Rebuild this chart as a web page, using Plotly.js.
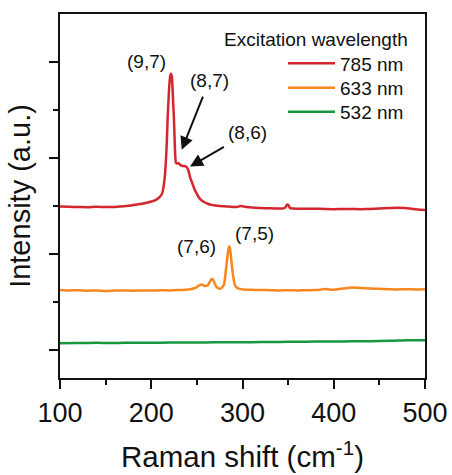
<!DOCTYPE html>
<html>
<head>
<meta charset="utf-8">
<script src="https://cdn.plot.ly/plotly-3.0.1.min.js"></script>
<style>
  html, body { margin: 0; padding: 0; background: #fff; }
  #chart { width: 452px; height: 475px; }
</style>
</head>
<body>
<div id="chart"></div>
<script>
// Raman spectra of SWCNTs at three excitation wavelengths (curves offset vertically)
const shift785 = [100, 110, 120, 130, 140, 150, 160, 170, 175, 180, 185, 190, 195, 200, 203, 206, 208, 210, 212, 213.5, 215, 216, 217, 218, 219, 220, 221, 221.7, 222.5, 223.3, 224, 224.8, 225.6, 226.3, 227, 228.5, 230, 232, 234, 236, 238, 239.5, 241, 242.5, 244, 246, 248, 250, 252, 255, 258, 262, 266, 270, 275, 280, 285, 290, 295, 298, 301, 305, 310, 320, 330, 340, 345, 347, 349, 350.5, 352, 355, 360, 370, 380, 390, 400, 410, 420, 430, 440, 450, 460, 470, 478, 485, 490, 495, 500];
const int785 = [1.493, 1.490, 1.488, 1.486, 1.490, 1.487, 1.489, 1.495, 1.500, 1.508, 1.515, 1.522, 1.532, 1.545, 1.553, 1.567, 1.582, 1.600, 1.630, 1.700, 1.820, 1.960, 2.150, 2.420, 2.620, 2.780, 2.860, 2.875, 2.850, 2.740, 2.580, 2.420, 2.200, 2.020, 1.950, 1.940, 1.945, 1.925, 1.915, 1.915, 1.910, 1.895, 1.860, 1.800, 1.760, 1.710, 1.660, 1.625, 1.590, 1.558, 1.540, 1.522, 1.510, 1.503, 1.498, 1.496, 1.493, 1.489, 1.491, 1.498, 1.494, 1.487, 1.482, 1.478, 1.474, 1.472, 1.474, 1.485, 1.515, 1.505, 1.478, 1.472, 1.470, 1.471, 1.470, 1.468, 1.466, 1.468, 1.467, 1.466, 1.468, 1.472, 1.477, 1.480, 1.478, 1.470, 1.464, 1.460, 1.457];

const shift633 = [100, 110, 120, 130, 140, 150, 160, 170, 180, 190, 200, 210, 220, 230, 238, 244, 248, 250, 253, 255.5, 258, 260, 262, 264, 266, 267, 268.5, 270, 272, 274, 276, 278, 279.7, 281, 282, 283.5, 284.8, 285.6, 286.5, 287.5, 288.5, 289.5, 291, 292, 294, 297, 300, 310, 320, 330, 340, 350, 360, 370, 380, 385, 390, 395, 400, 405, 410, 415, 420, 425, 430, 440, 450, 460, 470, 480, 490, 500];
const int633 = [0.625, 0.620, 0.622, 0.617, 0.620, 0.615, 0.618, 0.620, 0.617, 0.620, 0.618, 0.622, 0.620, 0.623, 0.627, 0.635, 0.645, 0.655, 0.675, 0.682, 0.668, 0.665, 0.675, 0.705, 0.735, 0.738, 0.720, 0.680, 0.652, 0.640, 0.638, 0.655, 0.680, 0.760, 0.850, 0.970, 1.060, 1.080, 1.045, 0.960, 0.870, 0.790, 0.700, 0.670, 0.648, 0.636, 0.630, 0.627, 0.624, 0.622, 0.620, 0.621, 0.620, 0.622, 0.624, 0.628, 0.635, 0.630, 0.628, 0.632, 0.640, 0.645, 0.650, 0.648, 0.645, 0.640, 0.636, 0.633, 0.630, 0.632, 0.630, 0.632];

const shift532 = [100, 120, 140, 160, 180, 200, 220, 240, 260, 280, 300, 320, 340, 360, 380, 400, 420, 440, 460, 470, 480, 490, 500];
const int532 = [0.070, 0.072, 0.074, 0.072, 0.076, 0.075, 0.077, 0.078, 0.079, 0.080, 0.081, 0.082, 0.084, 0.085, 0.087, 0.088, 0.090, 0.092, 0.095, 0.098, 0.100, 0.101, 0.100];

const seriesNames = ['785 nm', '633 nm', '532 nm'];
const seriesColors = ['#d3262e', '#f7861f', '#17983f'];
const xTickVals = [100, 200, 300, 400, 500];
const yTickVals = [0, 1, 2, 3];

// chirality labels (n,m) placed above their peaks
const chiralLabels = ['(9,7)', '(8,7)', '(8,6)', '(7,6)', '(7,5)'];
const chiralX = [195, 263.5, 306, 250, 313.5];
const chiralY = [3.0, 2.80, 2.26, 1.08, 1.21];
// (8,7) and (8,6) labels carry arrows to their shoulders
const arrowTipX = [null, 233.4, 242.5, null, null];
const arrowTipY = [null, 2.083, 1.909, null, null];

const FONT = 'Liberation Sans, Arial, sans-serif';
const legendIds = ['legend', 'legend2', 'legend3'];
const legendRowPx = [63.5, 88, 112];

const traces = [
  { x: shift785, y: int785 },
  { x: shift633, y: int633 },
  { x: shift532, y: int532 }
].map((d, i) => ({
  x: d.x, y: d.y, type: 'scatter', mode: 'lines', name: seriesNames[i],
  legend: legendIds[i],
  line: { color: seriesColors[i], width: 2.5, shape: 'spline', smoothing: 0.6 }
}));

const layout = {
  width: 452, height: 475,
  margin: { l: 60, r: 27, t: 14, b: 97 },
  paper_bgcolor: '#fff', plot_bgcolor: '#fff',
  font: { family: FONT, color: '#111' },
  showlegend: true,
  xaxis: {
    range: [100, 500], tickvals: xTickVals, ticks: 'outside', ticklen: 9, tickwidth: 2,
    tickcolor: '#111', showline: true, linewidth: 2.4, linecolor: '#111', mirror: true,
    showgrid: false, zeroline: false,
    tickfont: { family: FONT, size: 27, color: '#111' },
    minor: { dtick: 50, tick0: 100, ticks: 'outside', ticklen: 5, tickwidth: 2, tickcolor: '#111', showgrid: false },
    title: { text: 'Raman shift (cm<sup>-1</sup>)', font: { family: FONT, size: 29.5, color: '#111' }, standoff: 20 }
  },
  yaxis: {
    range: [-0.2917, 3.497], tickvals: yTickVals, ticks: 'outside', ticklen: 9, tickwidth: 2,
    tickcolor: '#111', showline: true, linewidth: 2.4, linecolor: '#111', mirror: true,
    showgrid: false, zeroline: false, showticklabels: false,
    minor: { dtick: 0.5, tick0: 0, ticks: 'outside', ticklen: 5, tickwidth: 2, tickcolor: '#111', showgrid: false },
    title: { text: 'Intensity (a.u.)', font: { family: FONT, size: 29, color: '#111' }, standoff: 10 }
  }
};

// pixel -> paper conversion for the legend block and its heading
const pw = layout.width - layout.margin.l - layout.margin.r;
const ph = layout.height - layout.margin.t - layout.margin.b;
const toPx = px => (px - layout.margin.l) / pw;
const toPy = py => 1 - (py - layout.margin.t) / ph;

legendIds.forEach((id, i) => {
  layout[id] = {
    x: toPx(283), y: toPy(legendRowPx[i]), xref: 'paper', yref: 'paper',
    xanchor: 'left', yanchor: 'middle', itemwidth: 47,
    bgcolor: 'rgba(0,0,0,0)', borderwidth: 0,
    font: { family: FONT, size: 19, color: '#111' }
  };
});

const annotations = chiralLabels.map((t, i) => {
  const a = {
    x: chiralX[i], y: chiralY[i], xref: 'x', yref: 'y', text: t, showarrow: false,
    font: { family: FONT, size: 19, color: '#111' }
  };
  if (arrowTipX[i] !== null) {
    // label stays where it is; the arrow runs from it to the shoulder
    a.showarrow = true;
    a.axref = 'x'; a.ayref = 'y';
    a.ax = chiralX[i]; a.ay = chiralY[i];
    a.x = arrowTipX[i]; a.y = arrowTipY[i];
    a.arrowhead = 2; a.arrowsize = 1.3; a.arrowwidth = 2; a.arrowcolor = '#111';
    a.startstandoff = 4;
  }
  return a;
});

annotations.push({
  x: toPx(410), y: toPy(40), xref: 'paper', yref: 'paper', text: 'Excitation wavelength',
  showarrow: false, xanchor: 'right', yanchor: 'middle',
  font: { family: FONT, size: 19, color: '#111' }
});
layout.annotations = annotations;

Plotly.newPlot('chart', traces, layout, { staticPlot: true, displayModeBar: false });
</script>
</body>
</html>
